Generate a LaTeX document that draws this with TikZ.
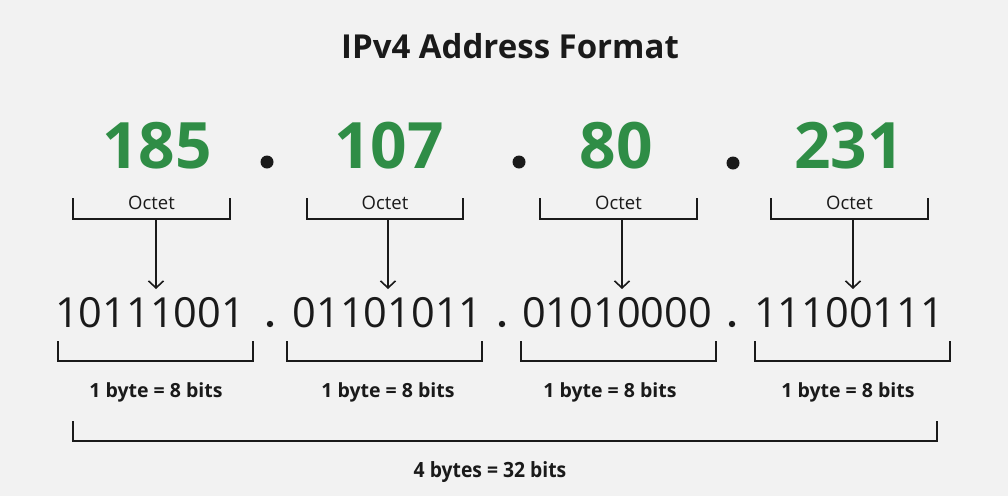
\documentclass[tikz,border=0pt]{standalone}
\usepackage{fontspec}
\setmainfont{Open Sans}
\usetikzlibrary{arrows.meta}
\definecolor{bg}{HTML}{F2F2F2}
\definecolor{gfg}{HTML}{2F8D46}
\definecolor{ink}{HTML}{1A1A1A}
\tikzset{
  bracket/.style={draw=ink, line width=1.8pt},
  arr/.style={draw=ink, line width=1.6pt, -{Straight Barb[length=7pt,width=15pt,line width=1.6pt]}},
  num/.style={anchor=base, text=gfg, font=\fontsize{64}{64}\selectfont\bfseries, inner sep=0},
  bin/.style={anchor=base, text=ink, font=\fontsize{41.5}{42}\selectfont, inner sep=0},
  oct/.style={anchor=base, text=ink, font=\fontsize{18.5}{19}\selectfont, inner sep=0},
  lbl/.style={anchor=base, text=ink, font=\fontsize{19.5}{20}\selectfont\bfseries, inner sep=0},
  bigdot/.style={fill=ink, draw=none},
}
\begin{document}
\begin{tikzpicture}[x=1pt,y=-1pt]
\fill[bg] (0,0) rectangle (1008,496);
\useasboundingbox (0,0) rectangle (1008,496);

\node[anchor=base, text=ink, font=\fontsize{33}{34}\selectfont\bfseries, inner sep=0] (title) at (510,58) {IPv4 Address Format};

% decimal octets
\node[num] (d1) at (157,168) {185};
\node[num] (d2) at (389,168) {107};
\node[num] (d3) at (616,168) {80};
\node[num] (d4) at (849,168) {231};
\fill[bigdot] (267,162) circle (6.5);
\fill[bigdot] (519,162) circle (6.5);
\fill[bigdot] (733,163) circle (6.5);

% octet labels and brackets
\foreach \i/\a/\b/\m in {1/73/230/156, 2/307/463/388, 3/540/697/622, 4/771/928/853}{
  \node[oct] (o\i) at ({(\a+\b)/2},209) {Octet};
  \draw[bracket] (\a,198) -- (\a,219) -- (\b,219) -- (\b,198);
  \coordinate (s\i) at (\m,219);
  \coordinate (t\i) at (\m,289);
  \draw[arr] (s\i) -- (t\i);
}

% binary
\node[bin] (b1) at (150,327) {10111001};
\node[bin] (b2) at (387.5,327) {01101011};
\node[bin] (b3) at (617,327) {01010000};
\node[bin] (b4) at (849,327) {11100111};
\fill[bigdot] (270,324) circle (3.2);
\fill[bigdot] (502,324) circle (3.2);
\fill[bigdot] (732,324) circle (3.2);

% byte brackets
\foreach \i/\a/\b in {1/58/253, 2/287/482, 3/521/716, 4/755/950}{
  \draw[bracket] (\a,341) -- (\a,361) -- (\b,361) -- (\b,341);
}
\node[lbl] (l1) at (156,397) {1 byte = 8 bits};
\node[lbl] (l2) at (388,397) {1 byte = 8 bits};
\node[lbl] (l3) at (610,397) {1 byte = 8 bits};
\node[lbl] (l4) at (848,397) {1 byte = 8 bits};

% total
\draw[bracket] (73,421) -- (73,441) -- (937,441) -- (937,421);
\node[anchor=base, text=ink, font=\fontsize{21}{21}\selectfont\bfseries, inner sep=0] (total) at (490,477) {\scalebox{0.92}[1]{4 bytes = 32 bits}};
\end{tikzpicture}
\end{document}
